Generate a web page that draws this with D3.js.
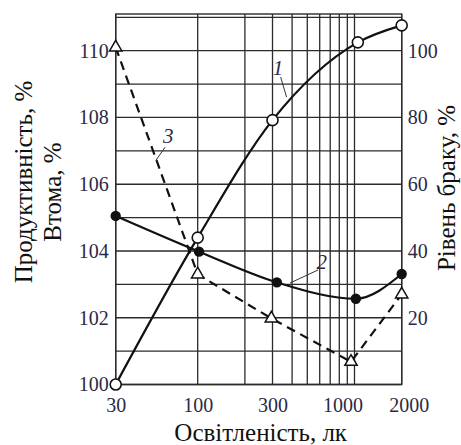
<!DOCTYPE html>
<html>
<head>
<meta charset="utf-8">
<script src="https://cdn.jsdelivr.net/npm/d3@7"></script>
<style>
	body { margin: 0; background: #fff; }
	text { font-family: "Liberation Serif", "Times New Roman", serif; }
</style>
</head>
<body>
<div id="viz"></div>
<script>

// illuminance values (lx) of each measured point
var lux1 = [30, 100, 300, 1050, 2000];
var lux2 = [30, 102, 320, 1020, 2000];
var lux3 = [30, 100, 295, 950, 2000];

// 1 - productivity, % (left axis)
var productivity = [100, 104.4, 107.92, 110.25, 110.76];
// 2 - fatigue, % (left axis)
var fatigue = [105.05, 103.98, 103.06, 102.57, 103.31];
// 3 - reject rate, % (right axis)
var rejects = [101, 33, 19.8, 6.8, 27];

var xTicks = [30, 100, 300, 1000, 2000];
var xGrid = [30, 100, 200, 300, 400, 500, 600, 700, 800, 900, 1000, 2000];
var leftTicks = [100, 102, 104, 106, 108, 110];
var rightTicks = [20, 40, 60, 80, 100];

// curve numbers with leader lines, in data units of the left axis
var curveLabels = [
	{text: "1", x: 325, y: 109.48, from: [338, 109.21], to: [369, 108.61]},
	{text: "2", x: 618, y: 103.68, from: [585, 103.43], to: [388, 103.04]},
	{text: "3", x: 65, y: 107.47, from: [62, 107.11], to: [54.2, 106.72]}
];

var W = 461, H = 445;
// plot frame (window.top is taken, so own names)
var pLeft = 115.7, pRight = 401.7, pTop = 14, pBottom = 384.5;
var ink = "#2b2b2b";
var serif = "'Liberation Serif', 'Times New Roman', serif";

var svg = d3.select("#viz")
	.append("svg")
	.attr("width", W)
	.attr("height", H);

var x = d3.scaleLog().domain([30, 2000]).range([pLeft, pRight]);
var yL = d3.scaleLinear().domain([100, 111.1]).range([pBottom, pTop]);
var yR = d3.scaleLinear().domain([0, 111]).range([pBottom, pTop]);

function drawGrid(){

	var g = svg.append("g");

	g.selectAll("line.h")
		.data(d3.range(100, 112, 1))
		.enter().append("line")
		.attr("x1", pLeft).attr("x2", pRight)
		.attr("y1", function(d){ return yL(d); })
		.attr("y2", function(d){ return yL(d); })
		.attr("stroke", ink).attr("stroke-width", 1.3);

	g.selectAll("line.v")
		.data(xGrid)
		.enter().append("line")
		.attr("y1", pTop).attr("y2", pBottom)
		.attr("x1", function(d){ return x(d); })
		.attr("x2", function(d){ return x(d); })
		.attr("stroke", ink).attr("stroke-width", 1.3);

	g.append("rect")
		.attr("x", pLeft).attr("y", pTop)
		.attr("width", pRight - pLeft).attr("height", pBottom - pTop)
		.attr("fill", "none").attr("stroke", ink).attr("stroke-width", 1.4);
}

function styleAxis(g){

	g.attr("font-family", serif);
	g.select(".domain").remove();
	g.selectAll(".tick line").remove();
	g.selectAll("text")
		.attr("font-size", 20)
		.attr("fill", "#2a2a46");
}

function drawAxes(){

	svg.append("g")
		.attr("transform", "translate(" + pLeft + ",0)")
		.call(d3.axisLeft(yL).tickValues(leftTicks).tickSize(0).tickPadding(7).tickFormat(d3.format("d")))
		.call(styleAxis);

	svg.append("g")
		.attr("transform", "translate(" + pRight + ",0)")
		.call(d3.axisRight(yR).tickValues(rightTicks).tickSize(0).tickPadding(6).tickFormat(d3.format("d")))
		.call(styleAxis);

	// 1000 and 2000 labels sit a bit off their grid lines in the original
	var shift = {1000: -12, 2000: 7};
	svg.append("g")
		.attr("transform", "translate(0," + pBottom + ")")
		.call(d3.axisBottom(x).tickValues(xTicks).tickSize(0).tickPadding(13).tickFormat(d3.format("d")))
		.call(styleAxis)
		.selectAll("text")
		.attr("dx", function(d){ return shift[d] || 0; });

	svg.append("text")
		.attr("transform", "translate(32,182) rotate(-90)")
		.attr("text-anchor", "middle")
		.attr("font-size", 25).attr("fill", "#111")
		.text("Продуктивність, %");

	svg.append("text")
		.attr("transform", "translate(61,192) rotate(-90)")
		.attr("text-anchor", "middle")
		.attr("font-size", 25).attr("fill", "#111")
		.text("Втома, %");

	svg.append("text")
		.attr("transform", "translate(455,188) rotate(-90)")
		.attr("text-anchor", "middle")
		.attr("font-size", 25).attr("fill", "#111")
		.text("Рівень браку, %");

	svg.append("text")
		.attr("x", (pLeft + pRight) / 2 + 2).attr("y", 441)
		.attr("text-anchor", "middle")
		.attr("font-size", 25).attr("fill", "#111")
		.text("Освітленість, лк");
}

function drawSeries(){

	var pts1 = lux1.map(function(d, i){ return [x(d), yL(productivity[i])]; });
	var pts2 = lux2.map(function(d, i){ return [x(d), yL(fatigue[i])]; });
	var pts3 = lux3.map(function(d, i){ return [x(d), yR(rejects[i])]; });

	var smooth = d3.line().curve(d3.curveMonotoneX);
	var straight = d3.line();

	svg.append("path").attr("d", smooth(pts1))
		.attr("fill", "none").attr("stroke", "#111").attr("stroke-width", 2.2);
	svg.append("path").attr("d", smooth(pts2))
		.attr("fill", "none").attr("stroke", "#111").attr("stroke-width", 2.2);
	svg.append("path").attr("d", straight(pts3))
		.attr("fill", "none").attr("stroke", "#111").attr("stroke-width", 2.2)
		.attr("stroke-dasharray", "9,6");

	svg.selectAll("circle.open")
		.data(pts1).enter().append("circle")
		.attr("cx", function(d){ return d[0]; })
		.attr("cy", function(d){ return d[1]; })
		.attr("r", 5.5)
		.attr("fill", "#fff").attr("stroke", "#111").attr("stroke-width", 1.6);

	svg.selectAll("circle.full")
		.data(pts2).enter().append("circle")
		.attr("cx", function(d){ return d[0]; })
		.attr("cy", function(d){ return d[1]; })
		.attr("r", 5.2)
		.attr("fill", "#111");

	svg.selectAll("path.tri")
		.data(pts3).enter().append("path")
		.attr("d", d3.symbol(d3.symbolTriangle).size(66))
		.attr("transform", function(d){ return "translate(" + d[0] + "," + d[1] + ")"; })
		.attr("fill", "#fff").attr("stroke", "#111").attr("stroke-width", 1.5);
}

function drawCurveLabels(){

	curveLabels.forEach(function(c){
		svg.append("line")
			.attr("x1", x(c.from[0])).attr("y1", yL(c.from[1]))
			.attr("x2", x(c.to[0])).attr("y2", yL(c.to[1]))
			.attr("stroke", "#333").attr("stroke-width", 1);
		svg.append("text")
			.attr("x", x(c.x)).attr("y", yL(c.y))
			.attr("dy", "0.35em")
			.attr("text-anchor", "middle")
			.attr("font-size", 21).attr("font-style", "italic")
			.attr("fill", "#2a2a46")
			.text(c.text);
	});
}

drawGrid();
drawAxes();
drawSeries();
drawCurveLabels();

</script>
</body>
</html>
